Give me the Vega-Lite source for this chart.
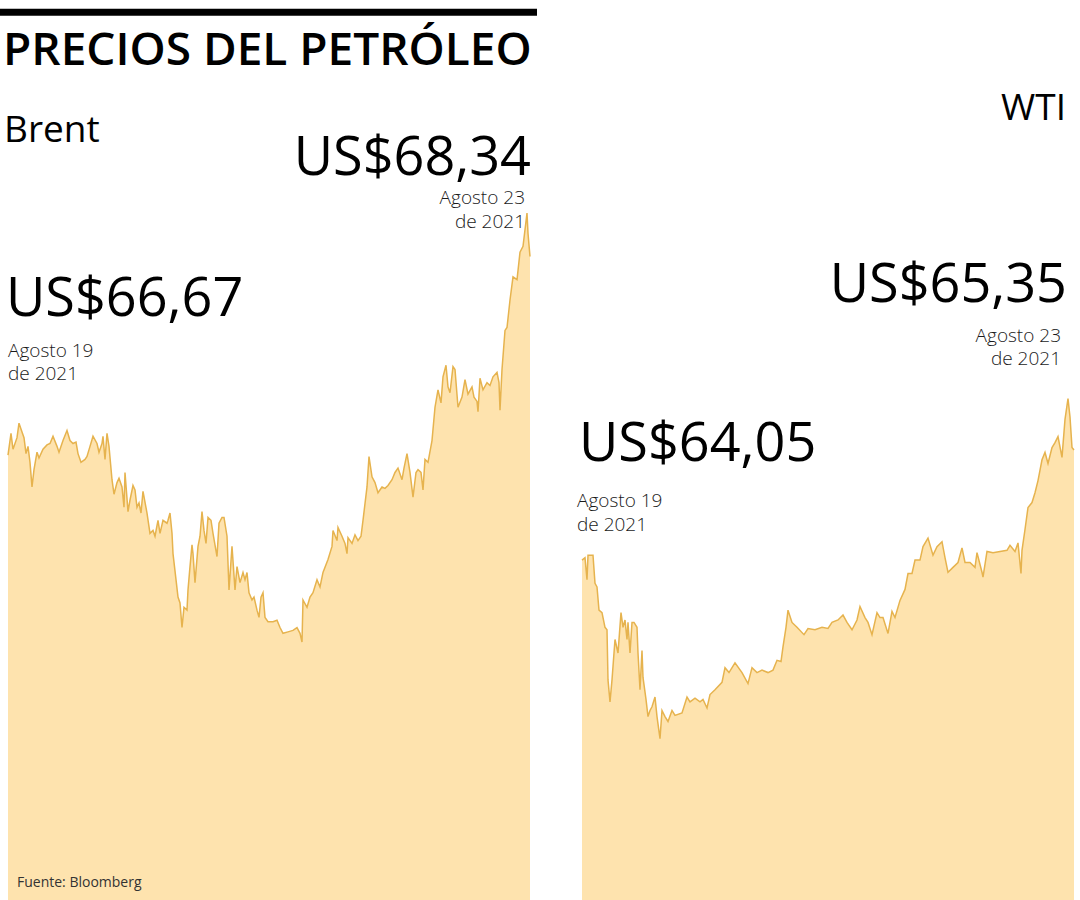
{
  "$schema": "https://vega.github.io/schema/vega-lite/v6.json",
  "padding": {"left": 0, "top": 0, "right": 5, "bottom": 0},
  "bounds": "flush",
  "spacing": 52,
  "background": "white",
  "config": {"view": {"stroke": null}, "text": {"font": "Open Sans"}},
  "datasets": {
    "brent": [
      {"t":0,"price":66.67},{"t":3,"price":66.82},{"t":5,"price":66.71},{"t":9,"price":66.79},{"t":11,"price":66.89},{"t":14,"price":66.83},{"t":16,"price":66.79},{"t":18,"price":66.68},{"t":20,"price":66.73},{"t":22,"price":66.62},{"t":24,"price":66.45},{"t":26,"price":66.57},{"t":29,"price":66.69},{"t":31,"price":66.65},{"t":35,"price":66.71},{"t":39,"price":66.74},{"t":42,"price":66.75},{"t":45,"price":66.80},{"t":49,"price":66.73},{"t":51,"price":66.69},{"t":55,"price":66.77},{"t":59,"price":66.84},{"t":62,"price":66.77},{"t":65,"price":66.75},{"t":68,"price":66.76},{"t":70,"price":66.68},{"t":73,"price":66.62},{"t":77,"price":66.64},{"t":79,"price":66.66},{"t":82,"price":66.73},{"t":85,"price":66.80},{"t":89,"price":66.75},{"t":91,"price":66.69},{"t":94,"price":66.75},{"t":95,"price":66.80},{"t":97,"price":66.64},{"t":99,"price":66.82},{"t":101,"price":66.73},{"t":104,"price":66.50},{"t":106,"price":66.40},{"t":109,"price":66.48},{"t":111,"price":66.51},{"t":114,"price":66.45},{"t":116,"price":66.31},{"t":117,"price":66.55},{"t":120,"price":66.28},{"t":122,"price":66.36},{"t":125,"price":66.46},{"t":127,"price":66.43},{"t":129,"price":66.31},{"t":131,"price":66.34},{"t":133,"price":66.27},{"t":135,"price":66.42},{"t":139,"price":66.27},{"t":142,"price":66.13},{"t":145,"price":66.15},{"t":147,"price":66.11},{"t":150,"price":66.22},{"t":152,"price":66.13},{"t":155,"price":66.22},{"t":159,"price":66.20},{"t":160,"price":66.22},{"t":162,"price":66.27},{"t":164,"price":66.13},{"t":165,"price":65.99},{"t":168,"price":65.81},{"t":170,"price":65.69},{"t":172,"price":65.65},{"t":174,"price":65.48},{"t":176,"price":65.62},{"t":179,"price":65.60},{"t":180,"price":65.74},{"t":182,"price":65.90},{"t":184,"price":66.05},{"t":185,"price":65.99},{"t":187,"price":65.79},{"t":190,"price":66.04},{"t":192,"price":66.11},{"t":194,"price":66.28},{"t":196,"price":66.15},{"t":198,"price":66.06},{"t":200,"price":66.24},{"t":203,"price":66.22},{"t":205,"price":66.13},{"t":209,"price":65.97},{"t":211,"price":66.20},{"t":214,"price":66.24},{"t":216,"price":66.24},{"t":219,"price":66.11},{"t":221,"price":65.74},{"t":224,"price":66.04},{"t":227,"price":65.74},{"t":229,"price":65.90},{"t":232,"price":65.79},{"t":235,"price":65.86},{"t":237,"price":65.81},{"t":239,"price":65.86},{"t":241,"price":65.72},{"t":244,"price":65.67},{"t":246,"price":65.69},{"t":249,"price":65.60},{"t":251,"price":65.55},{"t":253,"price":65.69},{"t":255,"price":65.72},{"t":257,"price":65.55},{"t":260,"price":65.52},{"t":265,"price":65.52},{"t":269,"price":65.53},{"t":272,"price":65.48},{"t":275,"price":65.44},{"t":280,"price":65.45},{"t":285,"price":65.46},{"t":289,"price":65.48},{"t":292,"price":65.44},{"t":294,"price":65.38},{"t":295,"price":65.67},{"t":299,"price":65.62},{"t":302,"price":65.69},{"t":305,"price":65.72},{"t":309,"price":65.81},{"t":312,"price":65.76},{"t":315,"price":65.86},{"t":320,"price":65.95},{"t":324,"price":66.04},{"t":325,"price":66.15},{"t":329,"price":66.08},{"t":330,"price":66.17},{"t":334,"price":66.11},{"t":337,"price":66.06},{"t":339,"price":65.99},{"t":340,"price":66.10},{"t":344,"price":66.06},{"t":347,"price":66.12},{"t":350,"price":66.08},{"t":353,"price":66.11},{"t":355,"price":66.22},{"t":359,"price":66.45},{"t":361,"price":66.66},{"t":364,"price":66.52},{"t":367,"price":66.48},{"t":370,"price":66.41},{"t":374,"price":66.45},{"t":377,"price":66.44},{"t":380,"price":66.46},{"t":384,"price":66.50},{"t":387,"price":66.55},{"t":390,"price":66.58},{"t":394,"price":66.50},{"t":396,"price":66.58},{"t":399,"price":66.68},{"t":402,"price":66.55},{"t":405,"price":66.38},{"t":408,"price":66.55},{"t":410,"price":66.57},{"t":413,"price":66.55},{"t":415,"price":66.43},{"t":417,"price":66.64},{"t":420,"price":66.62},{"t":424,"price":66.77},{"t":427,"price":67.00},{"t":430,"price":67.12},{"t":433,"price":67.03},{"t":435,"price":67.21},{"t":438,"price":67.29},{"t":440,"price":67.14},{"t":442,"price":67.10},{"t":445,"price":67.28},{"t":447,"price":67.26},{"t":450,"price":67.00},{"t":454,"price":67.07},{"t":457,"price":67.19},{"t":460,"price":67.09},{"t":464,"price":67.14},{"t":466,"price":67.07},{"t":469,"price":67.04},{"t":470,"price":66.97},{"t":472,"price":67.20},{"t":475,"price":67.12},{"t":479,"price":67.17},{"t":482,"price":67.15},{"t":485,"price":67.21},{"t":489,"price":67.24},{"t":491,"price":67.17},{"t":492,"price":66.98},{"t":494,"price":67.26},{"t":497,"price":67.53},{"t":499,"price":67.55},{"t":502,"price":67.74},{"t":505,"price":67.90},{"t":509,"price":67.88},{"t":512,"price":68.07},{"t":515,"price":68.11},{"t":519,"price":68.34},{"t":520,"price":68.20},{"t":522,"price":68.04}
    ],
    "wti": [
      {"t":0,"price":64.03},{"t":3,"price":64.05},{"t":5,"price":63.87},{"t":6,"price":64.07},{"t":11,"price":64.07},{"t":13,"price":63.84},{"t":15,"price":63.81},{"t":17,"price":63.62},{"t":20,"price":63.60},{"t":23,"price":63.48},{"t":25,"price":63.46},{"t":26,"price":63.05},{"t":28,"price":62.87},{"t":30,"price":63.05},{"t":33,"price":63.38},{"t":36,"price":63.27},{"t":39,"price":63.60},{"t":41,"price":63.48},{"t":43,"price":63.54},{"t":45,"price":63.38},{"t":46,"price":63.52},{"t":48,"price":63.27},{"t":50,"price":63.52},{"t":52,"price":63.52},{"t":55,"price":63.48},{"t":56,"price":63.27},{"t":58,"price":62.97},{"t":60,"price":63.29},{"t":61,"price":63.07},{"t":64,"price":62.89},{"t":66,"price":62.75},{"t":68,"price":62.80},{"t":70,"price":62.83},{"t":73,"price":62.91},{"t":75,"price":62.75},{"t":78,"price":62.57},{"t":80,"price":62.80},{"t":83,"price":62.75},{"t":86,"price":62.71},{"t":90,"price":62.80},{"t":93,"price":62.76},{"t":100,"price":62.78},{"t":105,"price":62.91},{"t":108,"price":62.87},{"t":113,"price":62.90},{"t":118,"price":62.87},{"t":121,"price":62.89},{"t":125,"price":62.82},{"t":128,"price":62.93},{"t":133,"price":62.97},{"t":140,"price":63.03},{"t":143,"price":63.15},{"t":147,"price":63.11},{"t":153,"price":63.19},{"t":160,"price":63.11},{"t":166,"price":63.02},{"t":170,"price":63.15},{"t":175,"price":63.11},{"t":180,"price":63.13},{"t":186,"price":63.11},{"t":191,"price":63.13},{"t":195,"price":63.21},{"t":199,"price":63.20},{"t":201,"price":63.32},{"t":204,"price":63.48},{"t":206,"price":63.62},{"t":210,"price":63.52},{"t":215,"price":63.48},{"t":222,"price":63.42},{"t":226,"price":63.47},{"t":233,"price":63.46},{"t":240,"price":63.48},{"t":246,"price":63.47},{"t":250,"price":63.52},{"t":256,"price":63.54},{"t":261,"price":63.58},{"t":265,"price":63.52},{"t":270,"price":63.46},{"t":275,"price":63.54},{"t":278,"price":63.65},{"t":283,"price":63.56},{"t":286,"price":63.52},{"t":290,"price":63.42},{"t":295,"price":63.60},{"t":298,"price":63.56},{"t":301,"price":63.56},{"t":306,"price":63.43},{"t":310,"price":63.61},{"t":313,"price":63.56},{"t":318,"price":63.70},{"t":323,"price":63.79},{"t":326,"price":63.92},{"t":330,"price":63.92},{"t":333,"price":64.03},{"t":338,"price":64.03},{"t":341,"price":64.14},{"t":346,"price":64.21},{"t":351,"price":64.07},{"t":355,"price":64.14},{"t":360,"price":64.18},{"t":363,"price":64.05},{"t":366,"price":63.93},{"t":371,"price":63.97},{"t":376,"price":64.01},{"t":380,"price":64.13},{"t":383,"price":64.01},{"t":388,"price":64.01},{"t":393,"price":63.97},{"t":395,"price":64.09},{"t":400,"price":63.93},{"t":401,"price":63.89},{"t":405,"price":64.10},{"t":411,"price":64.09},{"t":418,"price":64.10},{"t":425,"price":64.11},{"t":428,"price":64.15},{"t":433,"price":64.10},{"t":436,"price":64.17},{"t":439,"price":63.92},{"t":440,"price":64.11},{"t":443,"price":64.28},{"t":446,"price":64.46},{"t":450,"price":64.50},{"t":453,"price":64.58},{"t":456,"price":64.68},{"t":460,"price":64.85},{"t":463,"price":64.91},{"t":466,"price":64.82},{"t":470,"price":64.95},{"t":473,"price":64.99},{"t":476,"price":65.04},{"t":480,"price":64.87},{"t":483,"price":65.18},{"t":486,"price":65.35},{"t":488,"price":65.20},{"t":490,"price":64.95},{"t":492,"price":64.93}
    ]
  },
  "hconcat": [
    {
      "width": 530,
      "height": 900,
      "layer": [
        {
          "data": {"name": "brent"},
          "mark": {"type": "area", "color": "#FEE3AE", "opacity": 1, "line": {"color": "#E6B34E", "strokeWidth": 1.5}},
          "encoding": {
            "x": {"field": "t", "type": "quantitative", "axis": null, "scale": {"domain": [-8, 522], "nice": false, "zero": false}},
            "y": {"field": "price", "type": "quantitative", "axis": null, "scale": {"domain": [63.60, 69.81], "nice": false, "zero": false}}
          }
        },
        {
          "data": {"values": [{}]},
          "mark": {"type": "rect", "color": "#000000"},
          "encoding": {"x": {"datum": -8}, "x2": {"datum": 529}, "y": {"datum": 69.749}, "y2": {"datum": 69.701}}
        },
        {
          "data": {"values": [{}]},
          "mark": {"type": "text", "text": "PRECIOS DEL PETRÓLEO", "fontSize": 46, "fontWeight": 600, "align": "left", "baseline": "alphabetic", "color": "#000000"},
          "encoding": {"x": {"datum": -5}, "y": {"datum": 69.36}}
        },
        {
          "data": {"values": [{}]},
          "mark": {"type": "text", "text": "Brent", "fontSize": 37, "align": "left", "baseline": "alphabetic", "color": "#000000"},
          "encoding": {"x": {"datum": -4}, "y": {"datum": 68.83}}
        },
        {
          "data": {"values": [{}]},
          "mark": {"type": "text", "text": "US$68,34", "fontSize": 54, "align": "right", "baseline": "alphabetic", "color": "#000000"},
          "encoding": {"x": {"datum": 523}, "y": {"datum": 68.60}}
        },
        {
          "data": {"values": [{}]},
          "mark": {"type": "text", "text": ["Agosto 23", "de 2021"], "lineHeight": 24, "fontSize": 19, "fontWeight": 300, "align": "right", "baseline": "alphabetic", "color": "#1a1a1a"},
          "encoding": {"x": {"datum": 517}, "y": {"datum": 68.40}}
        },
        {
          "data": {"values": [{}]},
          "mark": {"type": "text", "text": "US$66,67", "fontSize": 54, "align": "left", "baseline": "alphabetic", "color": "#000000"},
          "encoding": {"x": {"datum": -2}, "y": {"datum": 67.63}}
        },
        {
          "data": {"values": [{}]},
          "mark": {"type": "text", "text": ["Agosto 19", "de 2021"], "lineHeight": 23, "fontSize": 19, "fontWeight": 300, "align": "left", "baseline": "alphabetic", "color": "#1a1a1a"},
          "encoding": {"x": {"datum": 0}, "y": {"datum": 67.35}}
        },
        {
          "data": {"values": [{}]},
          "mark": {"type": "text", "text": "Fuente: Bloomberg", "fontSize": 14, "align": "left", "baseline": "alphabetic", "color": "#333333"},
          "encoding": {"x": {"datum": 9}, "y": {"datum": 63.69}}
        }
      ]
    },
    {
      "width": 492,
      "height": 900,
      "layer": [
        {
          "data": {"name": "wti"},
          "mark": {"type": "area", "color": "#FEE3AE", "opacity": 1, "line": {"color": "#E6B34E", "strokeWidth": 1.5}},
          "encoding": {
            "x": {"field": "t", "type": "quantitative", "axis": null, "scale": {"domain": [0, 492], "nice": false, "zero": false}},
            "y": {"field": "price", "type": "quantitative", "axis": null, "scale": {"domain": [61.25, 68.61], "nice": false, "zero": false}}
          }
        },
        {
          "data": {"values": [{}]},
          "mark": {"type": "text", "text": "WTI", "fontSize": 37, "align": "right", "baseline": "alphabetic", "color": "#000000"},
          "encoding": {"x": {"datum": 484}, "y": {"datum": 67.63}}
        },
        {
          "data": {"values": [{}]},
          "mark": {"type": "text", "text": "US$65,35", "fontSize": 54, "align": "right", "baseline": "alphabetic", "color": "#000000"},
          "encoding": {"x": {"datum": 485}, "y": {"datum": 66.14}}
        },
        {
          "data": {"values": [{}]},
          "mark": {"type": "text", "text": ["Agosto 23", "de 2021"], "lineHeight": 23, "fontSize": 19, "fontWeight": 300, "align": "right", "baseline": "alphabetic", "color": "#1a1a1a"},
          "encoding": {"x": {"datum": 479}, "y": {"datum": 65.81}}
        },
        {
          "data": {"values": [{}]},
          "mark": {"type": "text", "text": "US$64,05", "fontSize": 54, "align": "left", "baseline": "alphabetic", "color": "#000000"},
          "encoding": {"x": {"datum": -3}, "y": {"datum": 64.84}}
        },
        {
          "data": {"values": [{}]},
          "mark": {"type": "text", "text": ["Agosto 19", "de 2021"], "lineHeight": 24, "fontSize": 19, "fontWeight": 300, "align": "left", "baseline": "alphabetic", "color": "#1a1a1a"},
          "encoding": {"x": {"datum": -5}, "y": {"datum": 64.46}}
        }
      ]
    }
  ]
}
